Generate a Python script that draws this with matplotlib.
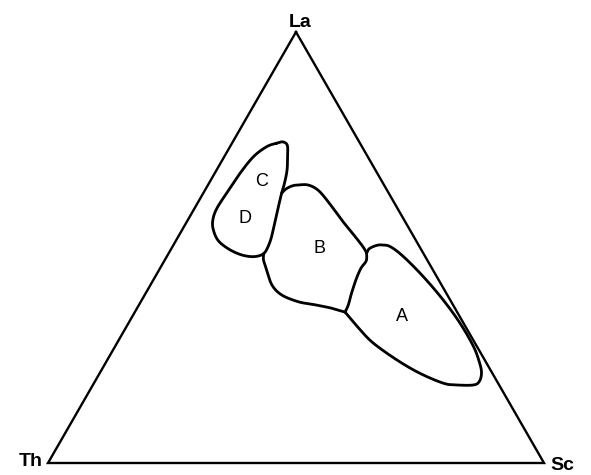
import numpy as np
import matplotlib
matplotlib.use("Agg")
import matplotlib.pyplot as plt

# Ternary La-Th-Sc diagram; compositions given as (La %, Sc %), Th = 100 - La - Sc
apex_names = ["La", "Th", "Sc"]
apex_la = [100, 0, 0]
apex_sc = [0, 0, 100]

# Field C/D (closed outline)
cd_la = [74.2, 74.5, 73.7, 71.2, 68.0, 65.0, 62.6, 59.2, 55.9, 52.2, 49.9, 48.6,
         48.0, 47.9, 48.4, 49.7, 51.7, 54.5, 56.8, 59.2, 62.6, 67.2, 71.1, 73.4]
cd_sc = [9.0, 10.1, 11.4, 12.7, 14.2, 15.2, 15.8, 16.8, 17.8, 18.9, 19.3, 19.2,
         18.3, 16.8, 14.5, 11.5, 8.4, 6.0, 4.9, 4.5, 4.7, 5.1, 5.9, 7.4]

# Field B: upper boundary (from C/D contact to A contact)
b_top_la = [62.6, 63.6, 64.3, 64.5, 64.5, 63.3, 60.6, 56.4, 52.5, 50.1, 48.7]
b_top_sc = [15.8, 16.2, 17.1, 18.2, 20.2, 22.8, 26.2, 31.0, 35.7, 38.5, 39.9]

# Boundary shared by B and A
ab_la = [48.7, 46.9, 45.2, 42.7, 39.4, 36.7, 35.0]
ab_sc = [39.9, 40.7, 40.5, 40.8, 41.5, 42.2, 42.4]

# Field B: lower boundary (from A contact back to C/D)
b_bot_la = [35.0, 35.9, 36.7, 37.4, 39.0, 41.3, 44.8, 47.1, 48.6]
b_bot_sc = [42.4, 39.3, 35.5, 31.8, 27.6, 24.5, 21.7, 19.9, 19.2]

# Field A: outer boundary
a_la = [48.7, 49.7, 50.4, 50.6, 50.2, 47.9, 43.2, 37.8, 32.4, 27.0, 23.1, 20.8,
        18.9, 18.1, 18.1, 18.5, 20.8, 23.9, 27.8, 30.9, 35.0]
a_sc = [39.9, 39.9, 40.8, 41.9, 43.9, 47.7, 54.1, 60.8, 66.9, 72.3, 75.5, 77.0,
        77.5, 76.7, 73.4, 70.5, 64.6, 58.4, 51.7, 47.5, 42.4]

# Field labels
field_names = ["A", "B", "C", "D"]
field_la = [33.9, 49.8, 65.3, 56.8]
field_sc = [54.5, 29.9, 10.5, 11.3]

H = np.sqrt(3) / 2


def to_xy(la, sc):
    la = np.asarray(la, float)
    sc = np.asarray(sc, float)
    return sc + la / 2, la * H


def catmull_rom(x, y, closed=False, n=20):
    P = np.column_stack([x, y])
    if closed:
        P = np.vstack([P[-1], P, P[0], P[1]])
    else:
        P = np.vstack([2 * P[0] - P[1], P, 2 * P[-1] - P[-2]])
    t = np.linspace(0, 1, n, endpoint=False)[:, None]
    segs = []
    for i in range(1, len(P) - 2):
        p0, p1, p2, p3 = P[i - 1], P[i], P[i + 1], P[i + 2]
        segs.append(0.5 * (2 * p1 + (-p0 + p2) * t
                           + (2 * p0 - 5 * p1 + 4 * p2 - p3) * t ** 2
                           + (-p0 + 3 * p1 - 3 * p2 + p3) * t ** 3))
    segs.append(P[-2][None])
    out = np.vstack(segs)
    return out[:, 0], out[:, 1]


fig = plt.figure(figsize=(5.91, 4.75), dpi=100)
ax = fig.add_axes([0, 0, 1, 1])
px_x = 4.96
px_y = 431 / (100 * H)
ax.set_xlim(-48 / px_x, 543 / px_x)
ax.set_ylim(-12 / px_y, 463 / px_y)
ax.axis("off")

# Triangle frame
tx, ty = to_xy(apex_la + [apex_la[0]], apex_sc + [apex_sc[0]])
ax.plot(tx, ty, color="black", lw=1.7, solid_joinstyle="miter", clip_on=False)

line_kw = dict(color="black", lw=2.0, solid_capstyle="round", solid_joinstyle="round")
ax.plot(*catmull_rom(*to_xy(cd_la, cd_sc), closed=True), **line_kw)
ax.plot(*catmull_rom(*to_xy(b_top_la, b_top_sc)), **line_kw)
ax.plot(*catmull_rom(*to_xy(ab_la, ab_sc)), **line_kw)
ax.plot(*catmull_rom(*to_xy(b_bot_la, b_bot_sc)), **line_kw)
ax.plot(*catmull_rom(*to_xy(a_la, a_sc)), **line_kw)

for name, la, sc in zip(field_names, field_la, field_sc):
    x, y = to_xy(la, sc)
    ax.text(x, y, name, ha="center", va="center", fontsize=13,
            family="Liberation Sans")

# Apex labels
vx, vy = to_xy(apex_la, apex_sc)
offsets = {"La": ((4, 5), "center"), "Th": ((-5, -3), "right"), "Sc": ((6, -7), "left")}
for name, x, y in zip(apex_names, vx, vy):
    off, ha = offsets[name]
    ax.annotate(name, (x, y), xytext=off, textcoords="offset pixels",
                ha=ha, va="baseline", fontsize=14, fontweight="bold",
                family="Liberation Sans", annotation_clip=False)

fig.savefig("out.png", dpi=100)
